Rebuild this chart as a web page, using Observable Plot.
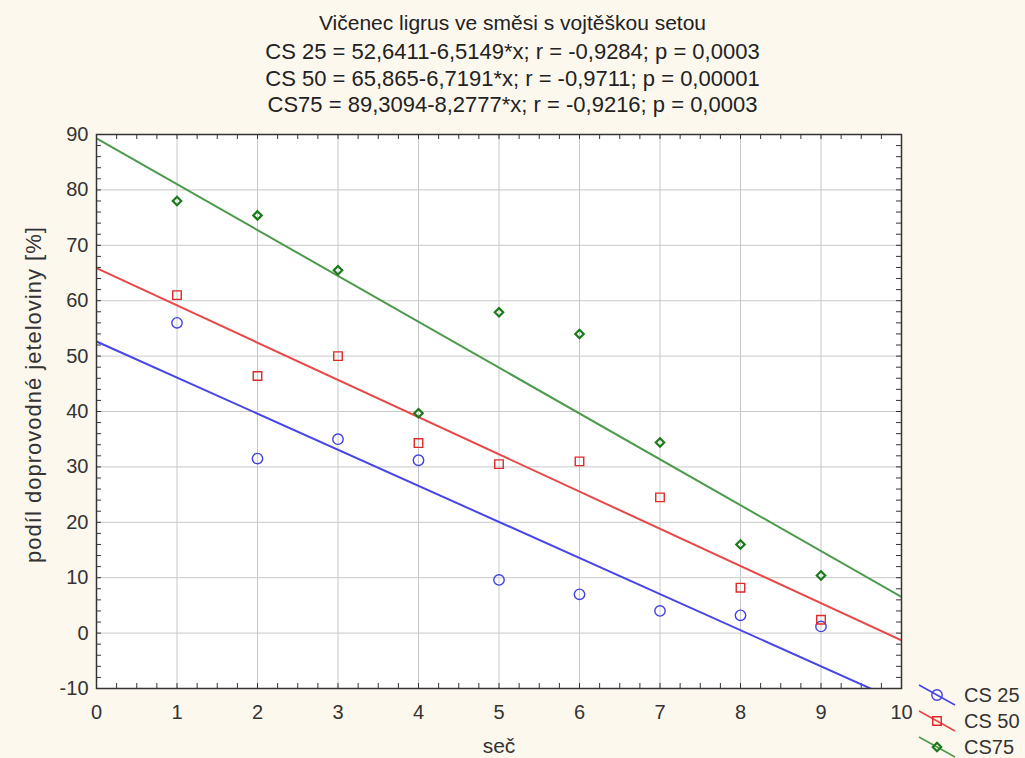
<!DOCTYPE html>
<html>
<head>
<meta charset="utf-8">
<script src="https://cdn.jsdelivr.net/npm/d3@7"></script>
<script src="https://cdn.jsdelivr.net/npm/@observablehq/plot@0.6"></script>
<style>
  html, body { margin: 0; padding: 0; background: #fdf8ee; }
  body { width: 1025px; height: 758px; position: relative; overflow: hidden; font-family: "Liberation Sans", Arial, sans-serif; color: #222; }
  #title { height: 118px; text-align: center; }
  #title div { position: absolute; left: 0; width: 1025px; text-align: center; font-size: 22px; line-height: 25px; }
  #title div.first { font-size: 21px; }
  #chart { position: absolute; left: 0; top: 118px; }
  #legend { position: absolute; left: 915px; top: 682px; font-size: 20px; color: #333; }
  #legend .row { height: 26px; display: flex; align-items: center; }
  #legend span { margin-left: 5px; }
  .ylabel text { letter-spacing: 1px; }
</style>
</head>
<body>
<div id="title"></div>
<div id="chart"></div>
<div id="legend"></div>
<script>
const titleLines = [
  "Vičenec ligrus ve směsi s vojtěškou setou",
  "CS 25 = 52,6411-6,5149*x; r = -0,9284; p = 0,0003",
  "CS 50 = 65,865-6,7191*x; r = -0,9711; p = 0,00001",
  "CS75 = 89,3094-8,2777*x; r = -0,9216; p = 0,0003"
];
const xLabel = "seč";
const yLabel = "podíl doprovodné jeteloviny [%]";

const seriesNames = ["CS 25", "CS 50", "CS75"];
const sec = [1, 2, 3, 4, 5, 6, 7, 8, 9];
const cs25 = [56, 31.5, 35, 31.2, 9.6, 7, 4, 3.2, 1.2];
const cs50 = [61, 46.4, 50, 34.3, 30.5, 31, 24.5, 8.2, 2.4];
const cs75 = [78, 75.4, 65.5, 39.7, 57.9, 54, 34.4, 16, 10.4];
const intercepts = [52.6411, 65.865, 89.3094];
const slopes = [-6.5149, -6.7191, -8.2777];

const xTicks = [0, 1, 2, 3, 4, 5, 6, 7, 8, 9, 10];
const yTicks = [-10, 0, 10, 20, 30, 40, 50, 60, 70, 80, 90];
const xMinor = d3.range(0, 10.001, 0.25);
const yMinor = d3.range(-10, 90.001, 2);

const lineColors = ["#4646e8", "#e84848", "#4c9a4c"];
const markColors = ["#4040e0", "#e02828", "#1c7a1c"];
const symbols = ["circle", "square", "diamond2"];
const radii = [5.2, 4.8, 3.8];

// title
const tEl = document.getElementById("title");
const tTops = [10, 39, 66, 92];
titleLines.forEach((t, i) => {
  const d = document.createElement("div");
  d.textContent = t;
  if (i === 0) d.className = "first";
  d.style.top = tTops[i] + "px";
  tEl.appendChild(d);
});

const allValues = [cs25, cs50, cs75];
const points = [];
allValues.forEach((vals, s) => vals.forEach((v, i) => points.push({s, x: sec[i], y: v})));
const fitLines = [];
intercepts.forEach((a, s) => [xTicks[0], xTicks[xTicks.length - 1]].forEach(x => fitLines.push({s, x, y: a + slopes[s] * x})));

const W = 1025, H = 640;
const mT = 16, mB = 70, mL = 96, mR = 124;
const plotH = H - mT - mB, plotW = W - mL - mR;

const chart = Plot.plot({
  width: W, height: H,
  marginTop: mT, marginBottom: mB, marginLeft: mL, marginRight: mR,
  style: {background: "transparent", fontFamily: "'Liberation Sans', Arial, sans-serif", fontSize: "20px", color: "#333"},
  x: {domain: [0, 10]},
  y: {domain: [-10, 90]},
  marks: [
    Plot.frame({fill: "white"}),
    Plot.gridX(xTicks.slice(1, -1), {stroke: "#c8c8c8", strokeOpacity: 1}),
    Plot.gridY(yTicks.slice(1, -1), {stroke: "#c8c8c8", strokeOpacity: 1}),
    // inward ticks
    Plot.tickX(xMinor, {x: d => d, insetTop: plotH - 5, stroke: "#333"}),
    Plot.tickX(xMinor, {x: d => d, insetBottom: plotH - 5, stroke: "#333"}),
    Plot.tickY(yMinor, {y: d => d, insetRight: plotW - 5, stroke: "#333"}),
    Plot.tickY(yMinor, {y: d => d, insetLeft: plotW - 5, stroke: "#333"}),
    Plot.line(fitLines, {x: "x", y: "y", z: "s", stroke: d => lineColors[d.s], strokeWidth: 2, clip: true}),
    ...[0, 1, 2].map(s => Plot.dot(points.filter(p => p.s === s), {
      x: "x", y: "y", symbol: () => symbols[s], r: radii[s], stroke: markColors[s], strokeWidth: s === 2 ? 2.2 : 1.4, fill: "none"
    })),
    Plot.frame({stroke: "#333", strokeWidth: 1.5}),
    Plot.axisX(xTicks, {tickSize: 0, tickPadding: 16, fontSize: 20, fill: "#333", label: null, tickFormat: d => String(d)}),
    Plot.axisY(yTicks, {tickSize: 0, tickPadding: 8, fontSize: 20, fill: "#333", label: null, tickFormat: d => String(d)}),
    Plot.text([xLabel], {frameAnchor: "bottom", dy: 58, fontSize: 21, fill: "#333", lineAnchor: "middle"}),
    Plot.text([yLabel], {frameAnchor: "left", textAnchor: "middle", dx: -63, dy: -17, rotate: -90, fontSize: 22, fill: "#333", lineAnchor: "middle", className: "ylabel"})
  ]
});
document.getElementById("chart").appendChild(chart);

// legend
const lg = d3.select("#legend");
seriesNames.forEach((name, s) => {
  const row = lg.append("div").attr("class", "row");
  const svg = row.append("svg").attr("width", 44).attr("height", 26);
  svg.append("line").attr("x1", 4).attr("y1", 3).attr("x2", 40).attr("y2", 23)
    .attr("stroke", lineColors[s]).attr("stroke-width", 1.6);
  svg.append("path").attr("transform", "translate(22,13)")
    .attr("d", d3.symbol(s === 0 ? d3.symbolCircle : s === 1 ? d3.symbolSquare : d3.symbolDiamond2, Math.PI * radii[s] * radii[s])())
    .attr("fill", "none").attr("stroke", markColors[s]).attr("stroke-width", s === 2 ? 2.2 : 1.4);
  row.append("span").text(name);
});
</script>
</body>
</html>
